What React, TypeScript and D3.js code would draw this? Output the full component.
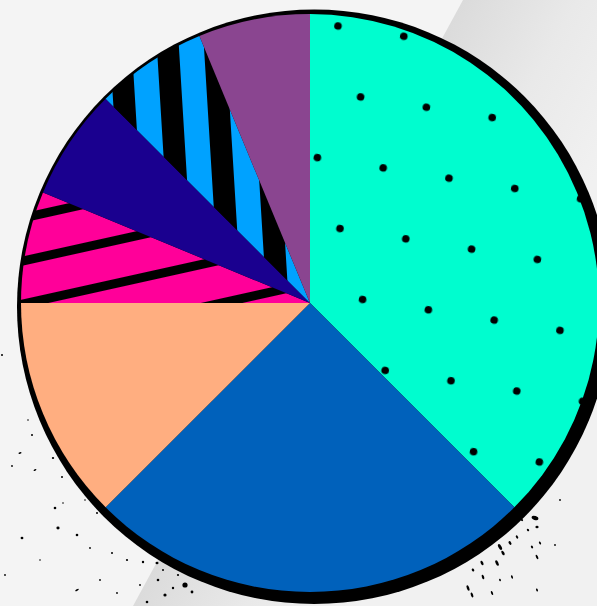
import React from 'react';
import * as d3 from 'd3';

// slice order runs clockwise from 12 o'clock
const slices = ['Aqua', 'Blue', 'Peach', 'Pink', 'Navy', 'Sky', 'Purple'];
const shares = [6, 4, 2, 1, 1, 1, 1];
const fills = ['url(#dots)', '#0061bb', '#ffae80', 'url(#pinkStripes)', '#1a008f', 'url(#skyStripes)', '#8a4590'];

// decorative ink specks around the lower rim [x, y, rx, ry, angle]
const specksLeft: [number, number, number, number, number][] = [
  [20, 453, 1.6, 0.8, -20], [32, 435, 1, 1, 0], [53, 458, 1.2, 0.9, 0], [35, 470, 1.5, 0.7, -25],
  [62, 477, 1, 1, 0], [55, 508, 1.3, 1.3, 0], [63, 503, 0.8, 0.8, 0], [58, 528, 1.6, 1.4, 0],
  [77, 535, 1.3, 1.2, 0], [22, 538, 1.4, 1.2, 0], [97, 513, 1, 1, 0], [90, 548, 0.9, 0.9, 0],
  [112, 553, 1, 1, 0], [127, 560, 1.1, 1.1, 0], [143, 562, 1.2, 1.2, 0], [157, 563, 1.5, 1.3, 0],
  [163, 570, 1, 1, 0], [185, 585, 2.6, 2.6, 0], [173, 588, 1.2, 1.2, 0], [158, 580, 1.3, 1.3, 0],
  [77, 590, 2, 0.8, -30], [147, 602, 1.3, 1.3, 0], [117, 593, 0.9, 0.9, 0], [100, 580, 0.9, 0.9, 0],
  [2, 355, 1, 1, 0], [12, 466, 0.9, 0.9, 0], [45, 395, 0.9, 0.9, 0], [28, 420, 0.8, 0.8, 0],
  [165, 595, 1.6, 1.6, 0], [178, 575, 1.1, 1.1, 0], [192, 592, 1.4, 1.4, 0], [140, 585, 0.9, 0.9, 0],
  [5, 575, 0.9, 0.9, 0], [40, 560, 0.8, 0.8, 0], [70, 450, 0.8, 0.8, 0], [85, 500, 0.8, 0.8, 0],
];
const specksRight: [number, number, number, number, number][] = [
  [535, 518, 3.5, 2, 20], [537, 527, 1.6, 1.2, 0], [500, 547, 3.2, 1.5, 60], [503, 553, 2.5, 1.3, 60],
  [510, 543, 2, 1.2, 60], [497, 563, 3, 1.4, 65], [482, 563, 2.4, 1.3, 65], [473, 570, 1.6, 1.2, 65],
  [483, 577, 2.4, 1.1, 70], [468, 588, 3, 1.2, 70], [472, 595, 2.6, 1.1, 70], [492, 593, 2.2, 1, 70],
  [512, 577, 1.8, 0.9, 70], [537, 557, 2.4, 1, 65], [540, 543, 1.6, 0.9, 60], [532, 547, 1.5, 1, 60],
  [517, 537, 1.8, 1, 60], [528, 530, 1.4, 1, 50], [537, 590, 1.6, 0.9, 70], [500, 580, 1.2, 0.9, 70],
  [488, 545, 1.6, 1, 60], [522, 520, 1.2, 1, 40], [560, 500, 0.9, 0.9, 0], [555, 545, 0.9, 0.9, 0],
];

const W = 597;
const H = 606;
const cx = 310;
const cy = 303;
const R = 289;

export default function App() {
  const pie = d3.pie<number>().sort(null).value(d => d);
  const arcs = pie(shares);
  const arc = d3.arc<d3.PieArcDatum<number>>().innerRadius(0).outerRadius(R);

  // patterns live in the pie group's space (origin at the centre)
  const at = (x: number, y: number) => `translate(${x - cx},${y - cy})`;

  return (
    <svg
      width={W}
      height={H}
      style={{ position: 'fixed', left: 0, top: 0, display: 'block' }}
    >
      <defs>
        <linearGradient id="bgBand" gradientUnits="userSpaceOnUse" x1={463} y1={0} x2={639} y2={96}>
          <stop offset="0" stopColor="#dbdbdb" />
          <stop offset="0.5" stopColor="#e9e9e9" />
          <stop offset="1" stopColor="#f1f1f1" />
        </linearGradient>
        <pattern
          id="dots"
          patternUnits="userSpaceOnUse"
          width={66.6}
          height={133.2}
          patternTransform={`${at(338, 26)} rotate(8.9) translate(-16.65,-16.65)`}
        >
          <rect width={66.6} height={133.2} fill="#00fdcf" />
          <circle cx={16.65} cy={16.65} r={3.8} fill="#000" />
          <circle cx={49.95} cy={83.25} r={3.8} fill="#000" />
        </pattern>
        <pattern
          id="pinkStripes"
          patternUnits="userSpaceOnUse"
          width={20}
          height={42}
          patternTransform={`${at(27, 298.5)} rotate(-12.5)`}
        >
          <rect width={20} height={42} fill="#ff0099" />
          <rect width={20} height={9} fill="#000" />
        </pattern>
        <pattern
          id="skyStripes"
          patternUnits="userSpaceOnUse"
          width={47}
          height={20}
          patternTransform={`${at(184.6, 140)} rotate(-3.5)`}
        >
          <rect width={47} height={20} fill="#000" />
          <rect width={25} height={20} fill="#00a2ff" />
        </pattern>
      </defs>

      <rect width={W} height={H} fill="#f4f4f4" />
      <polygon points={`463,0 ${W},0 ${W},${H} 133,${H}`} fill="url(#bgBand)" />

      {specksLeft.concat(specksRight).map(([x, y, rx, ry, a], i) => (
        <ellipse
          key={i}
          cx={x}
          cy={y}
          rx={rx}
          ry={ry}
          transform={`rotate(${a},${x},${y})`}
          fill="#000"
        />
      ))}

      {/* offset black disc acts as the rim */}
      <circle cx={cx + 4.25} cy={cy + 3.75} r={R + 8.25} fill="#000" />

      <g transform={`translate(${cx},${cy})`}>
        {arcs.map((a, i) => (
          <path key={slices[i]} d={arc(a) || ''} fill={fills[i]} />
        ))}
      </g>
    </svg>
  );
}
